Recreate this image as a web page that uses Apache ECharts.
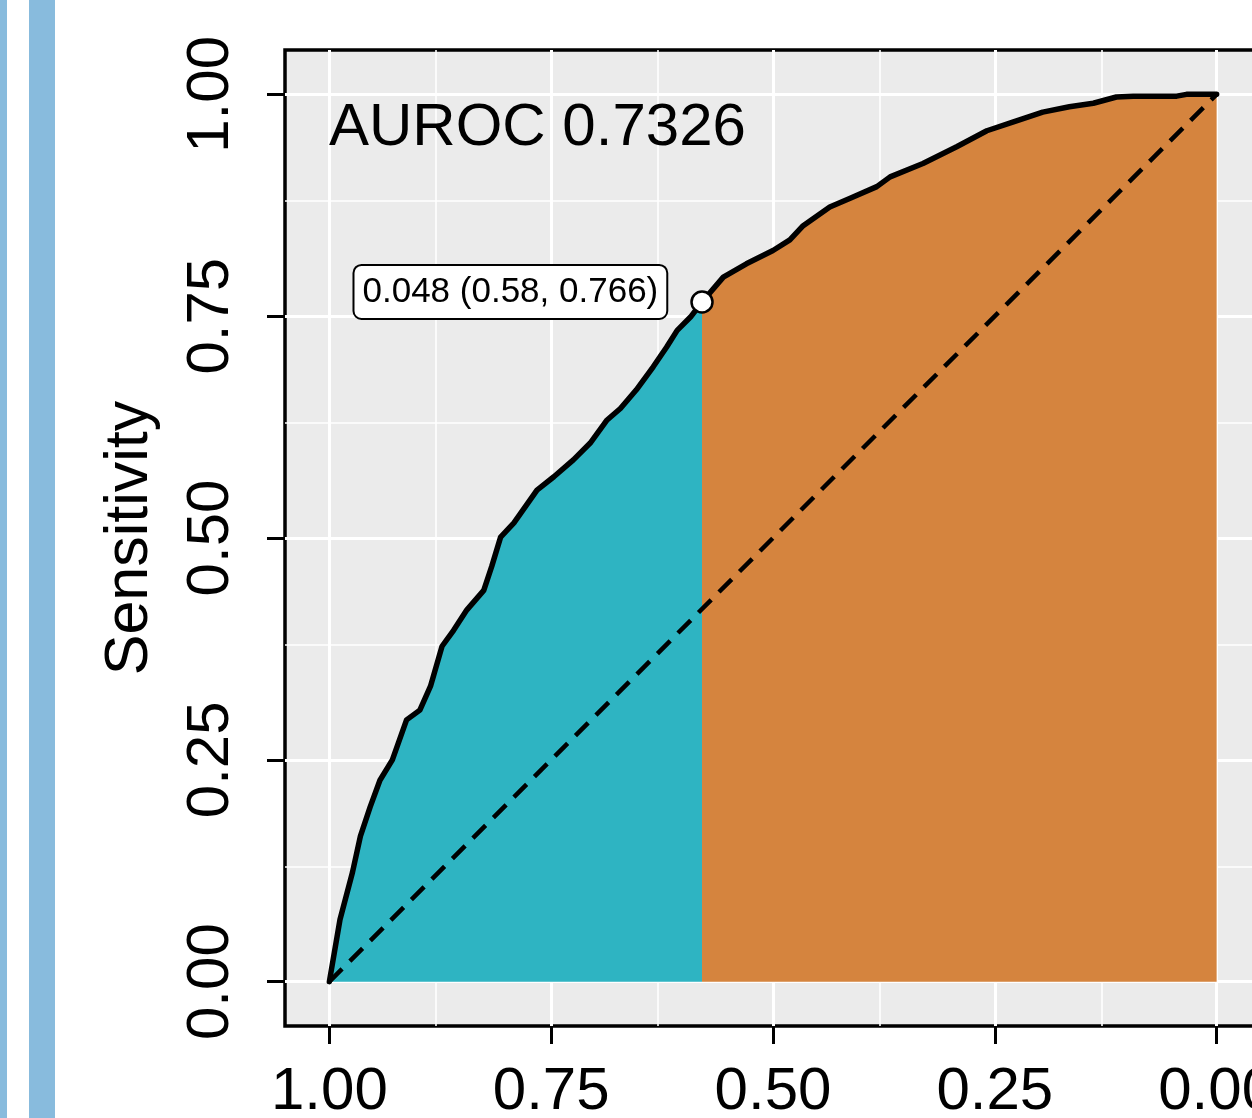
<!DOCTYPE html>
<html><head><meta charset="utf-8">
<script src="https://cdn.jsdelivr.net/npm/echarts@6/dist/echarts.min.js"></script>
<style>
html,body{margin:0;padding:0;background:#fff;overflow:hidden;}
#chart{position:absolute;left:0;top:0;width:1252px;height:1118px;}
.bar{position:absolute;top:0;height:1118px;background:#88BBDD;}
</style></head>
<body>
<div class="bar" style="left:0;width:7px"></div>
<div class="bar" style="left:29px;width:26px"></div>
<div id="chart"></div>
<script>
// ROC curve values
const specificity = [1.0, 0.988, 0.974, 0.965, 0.954, 0.943, 0.929, 0.913, 0.898, 0.886,
  0.873, 0.860, 0.845, 0.826, 0.817, 0.807, 0.792, 0.766, 0.747, 0.725,
  0.706, 0.687, 0.672, 0.654, 0.635, 0.620, 0.608, 0.593, 0.580, 0.556,
  0.530, 0.500, 0.481, 0.466, 0.436, 0.413, 0.383, 0.368, 0.331, 0.293,
  0.259, 0.229, 0.196, 0.166, 0.139, 0.113, 0.094, 0.045, 0.034, 0.0];
const sensitivity = [0, 0.070, 0.123, 0.164, 0.197, 0.227, 0.250, 0.295, 0.306, 0.333,
  0.378, 0.396, 0.419, 0.441, 0.468, 0.501, 0.517, 0.554, 0.569, 0.588,
  0.607, 0.633, 0.646, 0.667, 0.693, 0.715, 0.734, 0.749, 0.766, 0.794,
  0.809, 0.824, 0.836, 0.852, 0.873, 0.883, 0.896, 0.907, 0.922, 0.941,
  0.959, 0.969, 0.980, 0.986, 0.990, 0.997, 0.998, 0.998, 1.0, 1.0];
const thresholdValue = 0.048;
const thresholdSpec = 0.58;
const thresholdSens = 0.766;
const aucValue = 0.7326;
const chanceX = [1, 0];
const chanceY = [0, 1];
const tickValues = [0, 0.25, 0.5, 0.75, 1];
const minorValues = [0.125, 0.375, 0.625, 0.875];

const FONT = "'Liberation Sans', Arial, Helvetica, sans-serif";
const pts = specificity.map((s, i) => [s, sensitivity[i]]);
const leftPart = pts.filter(p => p[0] >= thresholdSpec);
const rightPart = pts.filter(p => p[0] <= thresholdSpec);
const chance = chanceX.map((x, i) => [x, chanceY[i]]);
const fmt = v => Number(v).toFixed(2);

const gridLines = [].concat(
  tickValues.map(v => ({ xAxis: v, lineStyle: { width: 3 } })),
  minorValues.map(v => ({ xAxis: v, lineStyle: { width: 1.6 } })),
  tickValues.map(v => ({ yAxis: v, lineStyle: { width: 3 } })),
  minorValues.map(v => ({ yAxis: v, lineStyle: { width: 1.6 } }))
);

const chart = echarts.init(document.getElementById('chart'), null, { renderer: 'canvas' });
const option = {
  animation: false,
  backgroundColor: 'transparent',
  title: {
    text: 'AUROC ' + aucValue.toFixed(4),
    left: 329, top: 98, padding: 0,
    textStyle: { fontFamily: FONT, fontSize: 60, fontWeight: 'normal', color: '#000' }
  },
  grid: {
    left: 285, top: 50, width: 976, height: 976,
    show: true, backgroundColor: '#EBEBEB', borderColor: '#000', borderWidth: 3.5,
    containLabel: false, outerBoundsMode: 'none'
  },
  xAxis: {
    type: 'value', inverse: true, min: -0.05, max: 1.05,
    axisLine: { show: false, onZero: false },
    axisTick: { show: true, customValues: tickValues, length: 18, lineStyle: { color: '#000', width: 3 } },
    axisLabel: { customValues: tickValues, formatter: fmt, margin: 36, fontSize: 60, fontFamily: FONT, color: '#000' },
    splitLine: { show: false }
  },
  yAxis: {
    type: 'value', min: -0.05, max: 1.05,
    name: 'Sensitivity', nameLocation: 'middle', nameRotate: 90, nameGap: 124,
    nameTextStyle: { fontSize: 61, fontFamily: FONT, color: '#000' },
    axisLine: { show: false, onZero: false },
    axisTick: { show: true, customValues: tickValues, length: 18, lineStyle: { color: '#000', width: 3 } },
    axisLabel: { customValues: tickValues, formatter: fmt, rotate: 90, margin: 44, fontSize: 60, fontFamily: FONT, color: '#000' },
    splitLine: { show: false }
  },
  series: [
    {
      type: 'line', data: [], z: 1, silent: true,
      markLine: {
        z: 1, silent: true, animation: false, symbol: ['none', 'none'],
        label: { show: false },
        lineStyle: { color: '#FFFFFF', type: 'solid' },
        emphasis: { disabled: true },
        data: gridLines
      }
    },
    {
      type: 'line', data: leftPart, z: 2, symbol: 'none', silent: true,
      lineStyle: { width: 0, opacity: 0 },
      areaStyle: { color: '#2EB4C2', opacity: 1 }
    },
    {
      type: 'line', data: rightPart, z: 2, symbol: 'none', silent: true,
      lineStyle: { width: 0, opacity: 0 },
      areaStyle: { color: '#D5843E', opacity: 1 }
    },
    {
      type: 'line', data: chance, z: 3, symbol: 'none', silent: true,
      lineStyle: { color: '#000', width: 4.5, type: [18, 11] }
    },
    {
      type: 'line', data: pts, z: 4, symbol: 'none', silent: true,
      lineStyle: { color: '#000', width: 5.5, join: 'round', cap: 'round' }
    },
    {
      type: 'scatter', data: [[thresholdSpec, thresholdSens]], z: 5, silent: true,
      symbol: 'circle', symbolSize: 21,
      itemStyle: { color: '#FFFFFF', borderColor: '#000', borderWidth: 2.5, opacity: 1 },
      label: {
        show: true, position: 'left', distance: 24, offset: [0, -10],
        formatter: () => thresholdValue.toFixed(3) + ' (' + thresholdSpec.toFixed(2) + ', ' + thresholdSens.toFixed(3) + ')',
        fontFamily: FONT, fontSize: 35, lineHeight: 42, color: '#000',
        backgroundColor: '#FFFFFF', borderColor: '#000', borderWidth: 2, borderRadius: 7,
        padding: [5, 8]
      }
    }
  ]
};
chart.setOption(option);
</script>
</body></html>
